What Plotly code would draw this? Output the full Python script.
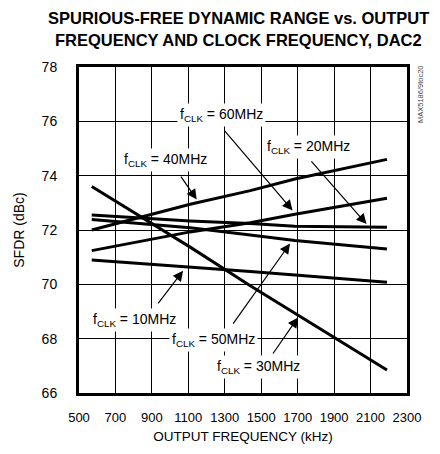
import plotly.graph_objects as go

# ---- data ----
freq_khz = [570, 1110, 1440, 1685, 2190]
sfdr_fclk10 = [70.90, 70.65, 70.47, 70.34, 70.08]
sfdr_fclk20 = [72.55, 72.33, 72.24, 72.14, 72.10]
sfdr_fclk30 = [73.60, 71.37, 69.95, 68.94, 66.85]
sfdr_fclk40 = [72.00, 72.95, 73.45, 73.88, 74.60]
sfdr_fclk50 = [72.39, 72.08, 71.82, 71.61, 71.30]
sfdr_fclk60 = [71.24, 71.93, 72.27, 72.58, 73.17]

series_names = ["fCLK = 10MHz", "fCLK = 20MHz", "fCLK = 30MHz",
                "fCLK = 40MHz", "fCLK = 50MHz", "fCLK = 60MHz"]
series_values = [sfdr_fclk10, sfdr_fclk20, sfdr_fclk30,
                 sfdr_fclk40, sfdr_fclk50, sfdr_fclk60]

x_ticks = [500, 700, 900, 1100, 1300, 1500, 1700, 1900, 2100, 2300]
y_ticks = [66, 68, 70, 72, 74, 76, 78]

title_lines = ["SPURIOUS-FREE DYNAMIC RANGE vs. OUTPUT",
               "FREQUENCY AND CLOCK FREQUENCY, DAC2"]
x_title = "OUTPUT FREQUENCY (kHz)"
y_title = "SFDR (dBc)"
watermark = "MAX5186/9toc20"

# label placement: (label MHz, label x, label y, arrow tail x, tail y, head x, head y)
labels = [
    ("60", 1282, 76.23, 1290, 75.72, 1672, 72.72),
    ("40", 972, 74.58, 1054, 74.02, 1146, 73.12),
    ("20", 1762, 75.06, 1768, 74.58, 2078, 72.22),
    ("10", 807, 68.69, 928, 69.24, 1071, 70.50),
    ("50", 1238, 67.95, 1340, 68.50, 1658, 71.50),
    ("30", 1485, 66.96, 1559, 67.40, 1702, 68.78),
]

FONT = "Liberation Sans, Arial, sans-serif"

fig = go.Figure()
for name, vals in zip(series_names, series_values):
    fig.add_trace(go.Scatter(x=freq_khz, y=vals, mode="lines", name=name,
                             line=dict(color="black", width=3),
                             showlegend=False, hoverinfo="skip"))

annotations = []
for mhz, lx, ly, tx, ty, hx, hy in labels:
    annotations.append(dict(
        x=lx, y=ly, xref="x", yref="y", showarrow=False,
        text="f<sub>CLK</sub> = " + mhz + "MHz",
        font=dict(family=FONT, size=14, color="black"),
        bgcolor="white", borderpad=2, xanchor="center", yanchor="middle"))
    annotations.append(dict(
        x=hx, y=hy, ax=tx, ay=ty, xref="x", yref="y", axref="x", ayref="y",
        text="", showarrow=True, arrowhead=2, arrowsize=1.7, arrowwidth=1.2,
        arrowcolor="black", standoff=0, startstandoff=0))

annotations.append(dict(x=(238 - 79) / 328, y=(393 - 18) / 326, xref="paper", yref="paper",
                        text="<b>" + title_lines[0] + "</b>", showarrow=False,
                        font=dict(family=FONT, size=16.5, color="black"),
                        xanchor="center", yanchor="middle"))
annotations.append(dict(x=(238 - 79) / 328, y=(393 - 40) / 326, xref="paper", yref="paper",
                        text="<b>" + title_lines[1] + "</b>", showarrow=False,
                        font=dict(family=FONT, size=16.5, color="black"),
                        xanchor="center", yanchor="middle"))
annotations.append(dict(x=(421 - 79) / 328, y=(393 - 94) / 326, xref="paper", yref="paper",
                        text=watermark, showarrow=False, textangle=-90,
                        font=dict(family=FONT, size=7.5, color="#444"),
                        xanchor="center", yanchor="middle"))

fig.update_layout(
    template="none",
    width=440, height=454,
    margin=dict(l=79, r=33, t=67, b=61, autoexpand=False),
    paper_bgcolor="white", plot_bgcolor="white",
    annotations=annotations,
    font=dict(family=FONT, size=13, color="black"),
)
fig.update_xaxes(range=[500, 2300], tickvals=x_ticks, ticktext=[str(v) for v in x_ticks],
                 showgrid=True, gridcolor="black", gridwidth=1,
                 showline=True, linecolor="black", linewidth=3, mirror=True,
                 ticks="", ticklabelstandoff=10, zeroline=False, automargin=False,
                 title=dict(text=x_title, font=dict(family=FONT, size=13.5, color="black"), standoff=8),
                 tickfont=dict(family=FONT, size=13, color="black"))
fig.update_yaxes(range=[66, 78], tickvals=y_ticks, ticktext=[str(v) for v in y_ticks],
                 showgrid=True, gridcolor="black", gridwidth=1,
                 showline=True, linecolor="black", linewidth=3, mirror=True,
                 ticks="", ticklabelstandoff=16, zeroline=False, automargin=False,
                 title=dict(text=y_title, font=dict(family=FONT, size=14, color="black"), standoff=14),
                 tickfont=dict(family=FONT, size=14, color="black"))

fig.write_html("out.html",
               config={"displayModeBar": False},
               post_script="document.body.style.margin='0';document.body.style.padding='0';")
